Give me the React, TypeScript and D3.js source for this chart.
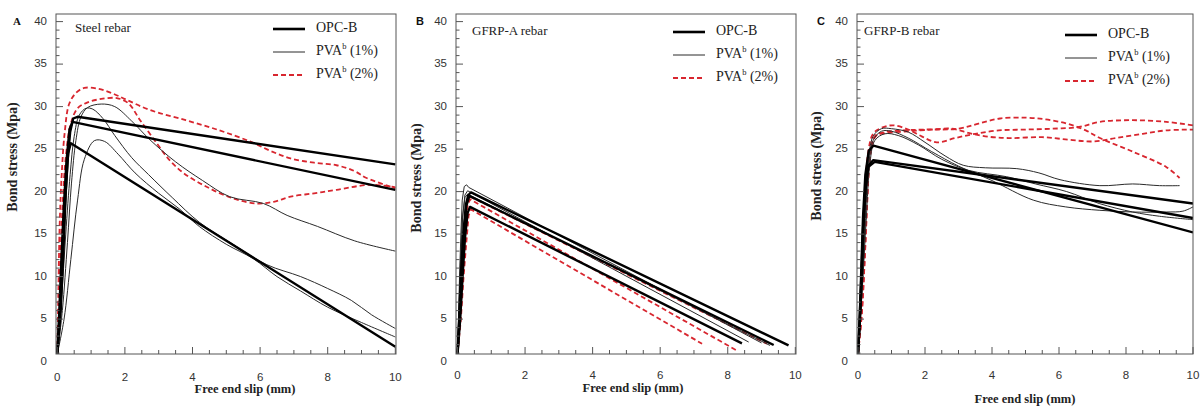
import React from 'react';
import * as d3 from 'd3';

type Pt = [number, number];

// ---- Panel A: Steel rebar ----
const steelOpc: Pt[][] = [
  [[0, 0.9], [0.08, 6], [0.15, 12], [0.22, 18], [0.3, 23.5], [0.38, 27], [0.47, 28.6], [0.6, 28.8], [10, 23.2]],
  [[0, 0.9], [0.06, 6], [0.12, 12], [0.19, 18], [0.27, 23.5], [0.36, 27.3], [0.45, 28.2], [10, 20.2]],
  [[0, 0.9], [0.1, 6], [0.18, 13], [0.25, 20], [0.32, 24.5], [0.4, 25.7], [10, 1.75]],
];
const steelPva1: Pt[][] = [
  [[0, 0.9], [0.15, 6], [0.3, 14], [0.42, 21], [0.55, 26], [0.7, 28.8], [0.9, 29.9], [1.3, 30.3], [1.7, 30], [2.2, 28.3], [2.74, 26.1], [3.5, 23.5], [4.3, 21.3], [5.1, 19.4], [6.1, 18.6], [6.8, 17.2], [7.7, 15.9], [8.8, 14.2], [10, 13]],
  [[0, 0.9], [0.12, 7], [0.25, 15], [0.38, 22], [0.5, 26.5], [0.65, 29], [0.85, 29.8], [1.05, 29.7], [1.35, 28.6], [1.7, 26.6], [2.2, 24], [2.7, 22], [3.4, 19.3], [4.2, 16.4], [5.2, 13.8], [6.2, 11.4], [7.2, 10], [8.0, 8.6], [8.7, 7.2], [9.3, 5.5], [10, 3.9]],
  [[0, 0.9], [0.2, 5], [0.4, 12], [0.6, 19], [0.8, 23.8], [1.1, 26], [1.4, 25.9], [1.8, 24.4], [2.3, 22.2], [3.0, 19.8], [3.6, 18], [4.2, 15.9], [5.0, 13.8], [5.8, 12.1], [6.5, 10], [7.2, 8.3], [8.0, 6.4], [9.0, 4.6], [10, 2.9]],
];
const steelPva2: Pt[][] = [
  [[0, 0.9], [0.03, 8], [0.07, 16], [0.13, 22], [0.22, 27], [0.35, 30.3], [0.55, 31.6], [0.8, 32.2], [1.2, 32.1], [1.6, 31.6], [2.05, 30.8], [2.74, 29.6], [3.8, 28.4], [4.8, 27.2], [5.7, 25.9], [6.3, 24.8], [6.9, 23.9], [7.6, 23.4], [8.26, 23.1], [8.8, 22.4], [9.15, 21.6], [10, 20.4]],
  [[0, 0.9], [0.06, 8], [0.14, 17], [0.25, 24], [0.4, 28], [0.6, 29.8], [0.9, 30.5], [1.3, 30.9], [1.76, 31], [2.1, 30.4], [2.45, 28.4], [2.94, 25.7], [3.3, 23.8], [3.73, 22.2], [4.4, 20.6], [5.2, 19.2], [5.9, 18.6], [6.4, 18.8], [6.9, 19.4], [7.6, 19.8], [8.26, 20.2], [9.25, 20.8], [10, 20.5]],
];

// ---- Panel B: GFRP-A rebar ----
const gfrpAOpc: Pt[][] = [
  [[0, 0.9], [0.05, 5], [0.1, 10], [0.17, 15], [0.25, 18.5], [0.32, 19.6], [0.4, 19.9], [9.8, 1.9]],
  [[0, 0.9], [0.06, 5], [0.12, 10], [0.19, 15], [0.26, 18.3], [0.35, 19.5], [9.36, 1.95]],
  [[0, 0.9], [0.08, 5], [0.15, 10], [0.22, 14.5], [0.3, 17.5], [0.37, 18.2], [8.42, 2.15]],
];
const gfrpAPva1: Pt[][] = [
  [[0, 0.9], [0.03, 5], [0.06, 10], [0.1, 15], [0.14, 19], [0.2, 20.6], [0.27, 20.8], [0.33, 20.5], [9.0, 2.2]],
  [[0, 0.9], [0.05, 6], [0.1, 12], [0.15, 17], [0.22, 19.6], [0.3, 20.1], [8.62, 2.3]],
  [[0, 0.9], [0.04, 6], [0.09, 12], [0.15, 17], [0.22, 19.3], [0.3, 19.7], [9.25, 1.9]],
];
const gfrpAPva2: Pt[][] = [
  [[0, 0.9], [0.07, 5], [0.14, 10], [0.2, 15], [0.26, 18.5], [0.33, 19.5], [9.16, 2.1]],
  [[0, 0.9], [0.1, 5], [0.18, 10], [0.26, 14], [0.33, 17.2], [0.4, 17.9], [7.24, 2.1]],
  [[0, 0.9], [0.08, 5], [0.16, 10], [0.23, 15], [0.3, 18.3], [0.37, 19.1], [8.27, 1.3]],
];

// ---- Panel C: GFRP-B rebar ----
const gfrpBOpc: Pt[][] = [
  [[0, 0.9], [0.05, 5], [0.1, 11], [0.15, 17], [0.22, 22], [0.32, 24.8], [0.46, 25.4], [10, 15.2]],
  [[0, 0.9], [0.06, 5], [0.11, 10], [0.16, 16], [0.22, 20], [0.3, 23], [0.45, 23.7], [10, 18.6]],
  [[0, 0.9], [0.05, 5], [0.1, 10], [0.15, 15.5], [0.21, 20], [0.3, 22.9], [0.5, 23.5], [10, 16.9]],
];
const gfrpBPva1: Pt[][] = [
  [[0, 0.9], [0.1, 8], [0.2, 17], [0.3, 23], [0.45, 26.5], [0.7, 27.4], [1.0, 27.4], [1.5, 27], [2.0, 25.8], [2.6, 24.2], [3.14, 23.1], [3.8, 22.8], [4.74, 22.7], [5.4, 22.2], [6.03, 21.4], [7.22, 20.7], [8.2, 20.9], [9.0, 20.7], [9.6, 20.7]],
  [[0, 0.9], [0.1, 7], [0.2, 15], [0.3, 22], [0.45, 26], [0.7, 27.1], [1.0, 27.1], [1.5, 26.3], [2.2, 24.7], [3.0, 23.0], [4.0, 21.3], [5.23, 19.0], [6.2, 18.2], [7.22, 17.8], [8.2, 17.6], [9.2, 17.6], [9.7, 17.7], [10, 18.2]],
  [[0, 0.9], [0.12, 8], [0.25, 17], [0.35, 23], [0.5, 26], [0.8, 26.8], [1.2, 26.6], [1.8, 25.5], [2.5, 23.8], [3.3, 22.5], [4.44, 21.75], [5.3, 20.9], [6.23, 20.0], [7.2, 18.6], [8.2, 17.6], [9.0, 17.1], [10, 16.7]],
];
const gfrpBPva2: Pt[][] = [
  [[0, 0.9], [0.08, 6], [0.15, 13], [0.22, 20], [0.3, 24.5], [0.45, 26.8], [0.7, 27.5], [1.05, 27.8], [1.5, 27.3], [1.9, 26.5], [2.35, 25.8], [2.9, 26.3], [3.5, 26.8], [4.2, 27.2], [5.0, 27.3], [5.8, 27.4], [6.6, 27.6], [7.2, 28.2], [8.2, 28.4], [9.2, 28.2], [10, 27.8]],
  [[0, 0.9], [0.1, 5], [0.2, 12], [0.28, 19], [0.35, 24], [0.5, 26.5], [0.8, 27], [1.3, 27.2], [2.0, 27.3], [3.0, 27.4], [3.6, 28], [4.24, 28.6], [5.0, 28.7], [5.6, 28.5], [6.23, 28], [6.8, 27.2], [7.22, 26.3], [8.2, 24.7], [9.2, 22.9], [9.6, 21.6]],
  [[0, 0.9], [0.12, 6], [0.22, 14], [0.3, 21], [0.4, 25], [0.55, 26.6], [0.9, 26.9], [1.5, 27.1], [2.2, 27.3], [2.8, 27.4], [3.3, 26.9], [3.8, 26.5], [4.5, 26.3], [5.5, 26.4], [6.3, 26.1], [7.0, 25.9], [7.7, 26.3], [8.5, 26.8], [9.2, 27.2], [10, 27.3]],
];

const xTicks = [0, 2, 4, 6, 8, 10];
const yTicks = [0, 5, 10, 15, 20, 25, 30, 35, 40];
const legendLabels = ['OPC-B', '1%', '2%'];

const RED = '#d8262f';
const serif = '"Liberation Serif", "Times New Roman", serif';
const sans = '"Liberation Sans", Arial, sans-serif';

interface PanelCfg {
  id: string;
  letter: string;
  letterFont: string;
  title: string;
  left: number;
  right: number;
  x0: number;
  x10: number;
  yTitleX: number;
  yTitleY: number;
  xTitleX: number;
  xTitleY: number;
  xLabelY: number;
  titleX: number;
  titleY: number;
  legX: number;
  legY: number;
  opc: Pt[][];
  pva1: Pt[][];
  pva2: Pt[][];
  smooth: boolean;
}

const panels: PanelCfg[] = [
  { id: 'a', letter: 'A', letterFont: serif, title: 'Steel rebar', left: 56, right: 396, x0: 57.3, x10: 395.3,
    yTitleX: 14, yTitleY: 157, xTitleX: 245, xTitleY: 390, xLabelY: 378, titleX: 75, titleY: 29,
    legX: 273, legY: 29, opc: steelOpc, pva1: steelPva1, pva2: steelPva2, smooth: true },
  { id: 'b', letter: 'B', letterFont: sans, title: 'GFRP-A rebar', left: 456, right: 796, x0: 457.5, x10: 795.3,
    yTitleX: 418, yTitleY: 178, xTitleX: 633, xTitleY: 389, xLabelY: 376, titleX: 472, titleY: 32,
    legX: 673, legY: 32, opc: gfrpAOpc, pva1: gfrpAPva1, pva2: gfrpAPva2, smooth: false },
  { id: 'c', letter: 'C', letterFont: sans, title: 'GFRP-B rebar', left: 857, right: 1193, x0: 858, x10: 1193,
    yTitleX: 818, yTitleY: 166, xTitleX: 1025, xTitleY: 400, xLabelY: 376, titleX: 864, titleY: 32,
    legX: 1065, legY: 35, opc: gfrpBOpc, pva1: gfrpBPva1, pva2: gfrpBPva2, smooth: true },
];

const TOP = 14;
const BOTTOM = 354;

const Panel = ({ p }: { p: PanelCfg }) => {
  const x = d3.scaleLinear().domain([0, 10]).range([p.x0, p.x10]);
  const y = d3.scaleLinear().domain([0, 40]).range([361.6, 21.6]);
  const line = d3.line<Pt>().x(d => x(d[0])).y(d => y(d[1]))
    .curve(p.smooth ? d3.curveCatmullRom.alpha(0.5) : d3.curveLinear);
  const straight = d3.line<Pt>().x(d => x(d[0])).y(d => y(d[1]));

  const xMinor = d3.range(0, 10.01, 0.5);
  const yMinor = d3.range(1, 41, 1).filter(v => y(v) <= BOTTOM && y(v) >= TOP);
  const clipId = `clip-${p.id}`;

  return (
    <g>
      <defs>
        <clipPath id={clipId}>
          <rect x={p.left} y={TOP} width={p.right - p.left} height={BOTTOM - TOP} />
        </clipPath>
      </defs>

      {/* curves */}
      <g clipPath={`url(#${clipId})`} fill="none">
        {p.pva2.map((d, i) => (
          <path key={'r' + i} d={line(d) || ''} stroke={RED} strokeWidth={1.8} strokeDasharray="5,3" />
        ))}
        {p.pva1.map((d, i) => (
          <path key={'t' + i} d={line(d) || ''} stroke="#2a2a2a" strokeWidth={1} />
        ))}
        {p.opc.map((d, i) => (
          <path key={'o' + i} d={straight(d) || ''} stroke="#000" strokeWidth={2.4} strokeLinejoin="round" />
        ))}
      </g>

      {/* frame */}
      <rect x={p.left} y={TOP} width={p.right - p.left} height={BOTTOM - TOP} fill="none" stroke="#555" strokeWidth={1} />

      {/* x ticks */}
      {xMinor.map(v => {
        const major = Math.abs(v % 2) < 1e-6;
        return <line key={'xm' + v} x1={x(v)} x2={x(v)} y1={BOTTOM} y2={BOTTOM - (major ? 7 : 4)} stroke="#555" />;
      })}
      {xTicks.map(v => (
        <text key={'xl' + v} x={x(v)} y={p.xLabelY} textAnchor="middle" dominantBaseline="middle"
          fontFamily={sans} fontSize={11.5} fill="#333">{v}</text>
      ))}

      {/* y ticks */}
      {yMinor.map(v => {
        const major = v % 5 === 0;
        return <line key={'ym' + v} x1={p.left} x2={p.left + (major ? 7 : 3.5)} y1={y(v)} y2={y(v)} stroke="#555" />;
      })}
      {yTicks.map(v => (
        <text key={'yl' + v} x={p.left - 9} y={y(v)} textAnchor="end" dominantBaseline="middle"
          fontFamily={sans} fontSize={11.5} fill="#333">{v}</text>
      ))}

      {/* axis titles */}
      <text x={p.xTitleX} y={p.xTitleY} textAnchor="middle" dominantBaseline="middle"
        fontFamily={serif} fontWeight="bold" fontSize={12.5} fill="#222">Free end slip (mm)</text>
      <text transform={`translate(${p.yTitleX},${p.yTitleY}) rotate(-90)`} textAnchor="middle" dominantBaseline="middle"
        fontFamily={serif} fontWeight="bold" fontSize={14} fill="#222">Bond stress (Mpa)</text>

      {/* panel letter & title */}
      <text x={p.id === 'a' ? 17 : p.left - 36} y={22} textAnchor="middle" dominantBaseline="middle"
        fontFamily={p.letterFont} fontWeight="bold" fontSize={11} fill="#111">{p.letter}</text>
      <text x={p.titleX} y={p.titleY} dominantBaseline="middle" fontFamily={serif} fontSize={13} fill="#222">{p.title}</text>

      {/* legend */}
      {legendLabels.map((lab, i) => {
        const ly = p.legY + i * 23;
        const lx2 = p.legX + 32;
        return (
          <g key={'lg' + i}>
            {i === 0 && <line x1={p.legX} x2={lx2} y1={ly} y2={ly} stroke="#000" strokeWidth={2.6} />}
            {i === 1 && <line x1={p.legX} x2={lx2} y1={ly} y2={ly} stroke="#2a2a2a" strokeWidth={1} />}
            {i === 2 && <line x1={p.legX} x2={lx2} y1={ly} y2={ly} stroke={RED} strokeWidth={2} strokeDasharray="5,3" />}
            <text x={p.legX + 43} y={ly} dominantBaseline="middle" fontFamily={serif} fontSize={14} fill="#222">
              {i === 0 ? lab : (
                <>
                  PVA<tspan fontSize={8.5} dy={-5}>b</tspan><tspan dy={5}>{` (${lab})`}</tspan>
                </>
              )}
            </text>
          </g>
        );
      })}
    </g>
  );
};

export default function App() {
  return (
    <svg width={1204} height={407} style={{ position: 'absolute', left: 0, top: 0, background: '#fff' }}>
      <rect width={1204} height={407} fill="#fff" />
      {panels.map(p => <Panel key={p.id} p={p} />)}
    </svg>
  );
}
